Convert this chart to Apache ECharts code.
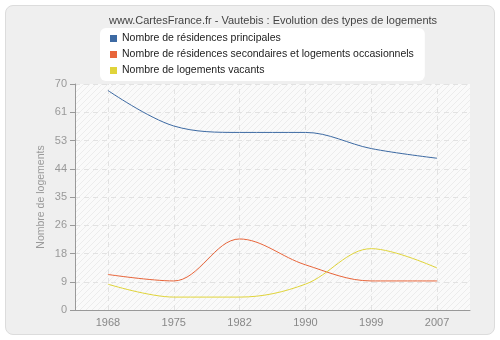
<!DOCTYPE html>
<html><head><meta charset="utf-8">
<script src="https://cdn.jsdelivr.net/npm/echarts@6/dist/echarts.min.js"></script>
<style>
html,body{margin:0;padding:0;background:#fff;}
#frame{position:absolute;left:5px;top:5px;width:488px;height:328px;background:#efefef;border:1px solid #dcdcdc;border-radius:8px;}
#c{position:absolute;left:0;top:0;width:500px;height:340px;}
</style></head>
<body><div id="frame"></div><div id="c"></div>
<script>
const categories = ['1968','1975','1982','1990','1999','2007'];
const principales = [68, 57, 55, 55, 50, 47];
const secondaires = [11, 9, 22, 14, 9, 9];
const vacants = [8, 4, 4, 8, 19, 13];
const seriesNames = ['Nombre de résidences principales','Nombre de résidences secondaires et logements occasionnels','Nombre de logements vacants'];

const pc = document.createElement('canvas');
pc.width = 6; pc.height = 6;
const g = pc.getContext('2d');
g.fillStyle = '#fafafa'; g.fillRect(0,0,6,6);
g.strokeStyle = '#ececec'; g.lineWidth = 1;
g.beginPath(); g.moveTo(0,6); g.lineTo(6,0); g.stroke();

const chart = echarts.init(document.getElementById('c'), null, {renderer:'canvas'});
const font = 'Liberation Sans, Arial, sans-serif';
const sm = 0.35;
const gridLineStyle = {color: '#e2e2e2', type: [5, 4], width: 1};
chart.setOption({
  backgroundColor: 'transparent',
  animation: false,
  title: {text: 'www.CartesFrance.fr - Vautebis : Evolution des types de logements', left: 104, top: 10,
    textStyle: {fontSize: 11, fontWeight: 'normal', color: '#444', fontFamily: font}},
  legend: {orient: 'vertical', left: 100, top: 28, backgroundColor: '#fff', borderRadius: 6,
    padding: [5, 11, 5, 10], itemGap: 5, itemWidth: 7, itemHeight: 7, icon: 'rect',
    textStyle: {fontSize: 10.5, color: '#222', fontFamily: font},
    data: seriesNames},
  grid: {left: 75, right: 30, top: 84, bottom: 30, show: true, backgroundColor: {image: pc, repeat: 'repeat'}, borderWidth: 0},
  xAxis: {type: 'category', data: categories, boundaryGap: true,
    axisLine: {lineStyle: {color: '#999'}},
    axisTick: {alignWithLabel: true, length: 5, lineStyle: {color: '#999'}},
    axisLabel: {color: '#888', fontSize: 11, fontFamily: font, margin: 7},
    splitLine: {show: false}},
  yAxis: {type: 'value', min: 0, max: 70, interval: 8.75,
    name: 'Nombre de logements', nameLocation: 'middle', nameGap: 28, nameMoveOverlap: false,
    nameTextStyle: {color: '#999', fontSize: 10.5, fontFamily: font},
    axisLine: {show: true, lineStyle: {color: '#999'}},
    axisTick: {show: true, length: 5, lineStyle: {color: '#999'}},
    axisLabel: {color: '#999', fontSize: 11, fontFamily: font, margin: 8, formatter: v => Math.round(v)},
    splitLine: {show: true, lineStyle: gridLineStyle}},
  series: [
    {name: seriesNames[0], type: 'line', smooth: sm, symbol: 'none', data: principales, itemStyle: {color: '#3d6aa3'}, lineStyle: {width: 1, color: '#3d6aa3'},
      markLine: {silent: true, symbol: 'none', z: 1, label: {show: false}, lineStyle: gridLineStyle,
        data: categories.map(c => ({xAxis: c}))}},
    {name: seriesNames[1], type: 'line', smooth: sm, symbol: 'none', data: secondaires, itemStyle: {color: '#e8653a'}, lineStyle: {width: 1, color: '#e8653a'}},
    {name: seriesNames[2], type: 'line', smooth: sm, symbol: 'none', data: vacants, itemStyle: {color: '#e0d43a'}, lineStyle: {width: 1, color: '#e0d43a'}}
  ]
});
</script></body></html>
